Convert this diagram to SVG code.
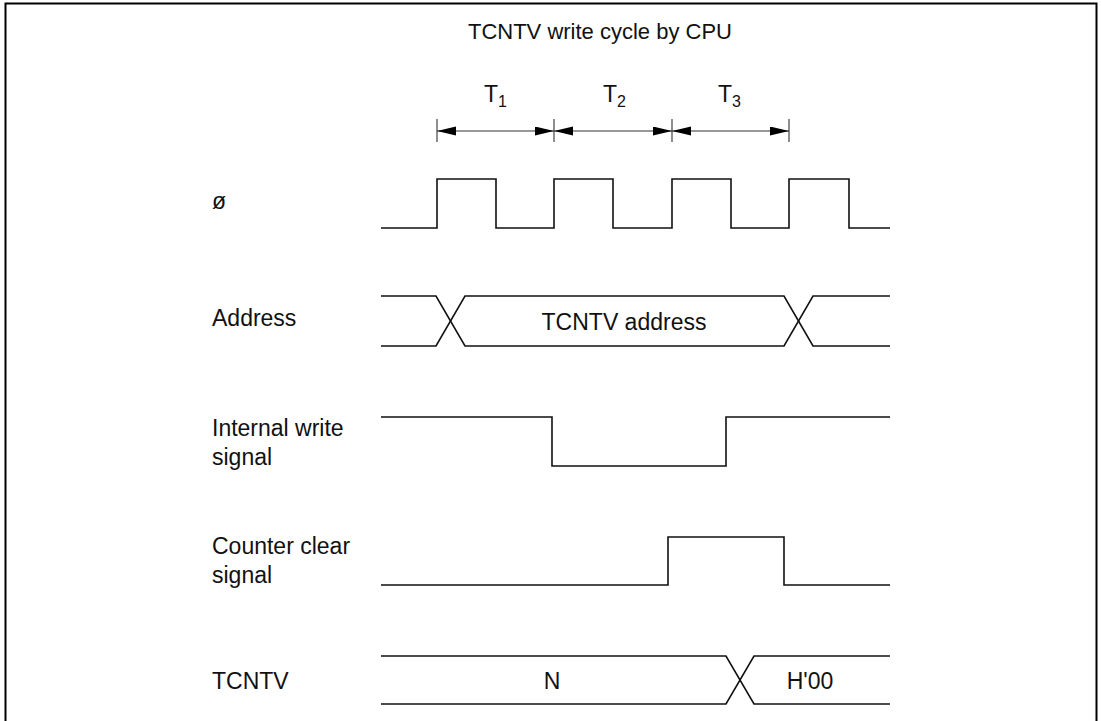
<svg xmlns="http://www.w3.org/2000/svg" width="1101" height="721" viewBox="0 0 1101 721">
<style>
  .lbl { font-family: "Liberation Sans", Arial, sans-serif; font-size: 23px; fill: #111; }
  .ttl { font-family: "Liberation Sans", Arial, sans-serif; font-size: 22px; fill: #111; }
  .sub { font-family: "Liberation Sans", Arial, sans-serif; font-size: 16px; fill: #111; }
  .sig { fill: none; stroke: #111; stroke-width: 1.6; }
  .tick { stroke: #444; stroke-width: 1.2; }
  .dim { stroke: #333; stroke-width: 1.2; fill: none; marker-start: url(#ah); marker-end: url(#ah); }
</style>
<defs>
  <marker id="ah" markerUnits="userSpaceOnUse" markerWidth="20" markerHeight="10" refX="19" refY="4.5" orient="auto-start-reverse">
    <path d="M0,0 L19,4.5 L0,9 z" fill="#000"/>
  </marker>
</defs>
<rect x="0" y="0" width="1101" height="721" fill="#fff"/>
<rect x="5.5" y="3.5" width="1091" height="800" fill="none" stroke="#000" stroke-width="2"/>
<text class="ttl" x="600" y="39" text-anchor="middle">TCNTV write cycle by CPU</text>

<g id="timing-labels">
  <text class="lbl" x="484" y="102">T<tspan class="sub" dy="4.5">1</tspan></text>
  <text class="lbl" x="603" y="102">T<tspan class="sub" dy="4.5">2</tspan></text>
  <text class="lbl" x="718" y="102">T<tspan class="sub" dy="4.5">3</tspan></text>
</g>

<g id="connectors">
  <line class="tick" x1="437" y1="119" x2="437" y2="142"/>
  <line class="tick" x1="554" y1="119" x2="554" y2="142"/>
  <line class="tick" x1="672" y1="119" x2="672" y2="142"/>
  <line class="tick" x1="789" y1="119" x2="789" y2="142"/>
  <path class="dim" d="M437,131 H554"/>
  <path class="dim" d="M554,131 H672"/>
  <path class="dim" d="M672,131 H789"/>
</g>

<g id="clock">
  <text class="lbl" x="212" y="209">ø</text>
  <path class="sig" d="M381,228 H437 V179 H496 V228 H554 V179 H613 V228 H672 V179 H731 V228 H789 V179 H849 V228 H890"/>
</g>

<g id="address">
  <text class="lbl" x="212" y="326">Address</text>
  <path class="sig" d="M381,296 H436 L465,346 H784 L813,296 H890"/>
  <path class="sig" d="M381,346 H436 L465,296 H784 L813,346 H890"/>
  <text class="lbl" x="624" y="330" text-anchor="middle">TCNTV address</text>
</g>

<g id="internal-write">
  <text class="lbl" x="212" y="436">Internal write</text>
  <text class="lbl" x="212" y="465">signal</text>
  <path class="sig" d="M381,417 H552 V466 H726 V417 H890"/>
</g>

<g id="counter-clear">
  <text class="lbl" x="212" y="554">Counter clear</text>
  <text class="lbl" x="212" y="583">signal</text>
  <path class="sig" d="M381,585 H668 V537 H784 V585 H890"/>
</g>

<g id="tcntv">
  <text class="lbl" x="212" y="689">TCNTV</text>
  <path class="sig" d="M381,656 H726 L754,704 H890"/>
  <path class="sig" d="M381,704 H726 L754,656 H890"/>
  <text class="lbl" x="552" y="689" text-anchor="middle">N</text>
  <text class="lbl" x="810" y="689" text-anchor="middle">H'00</text>
</g>
</svg>
